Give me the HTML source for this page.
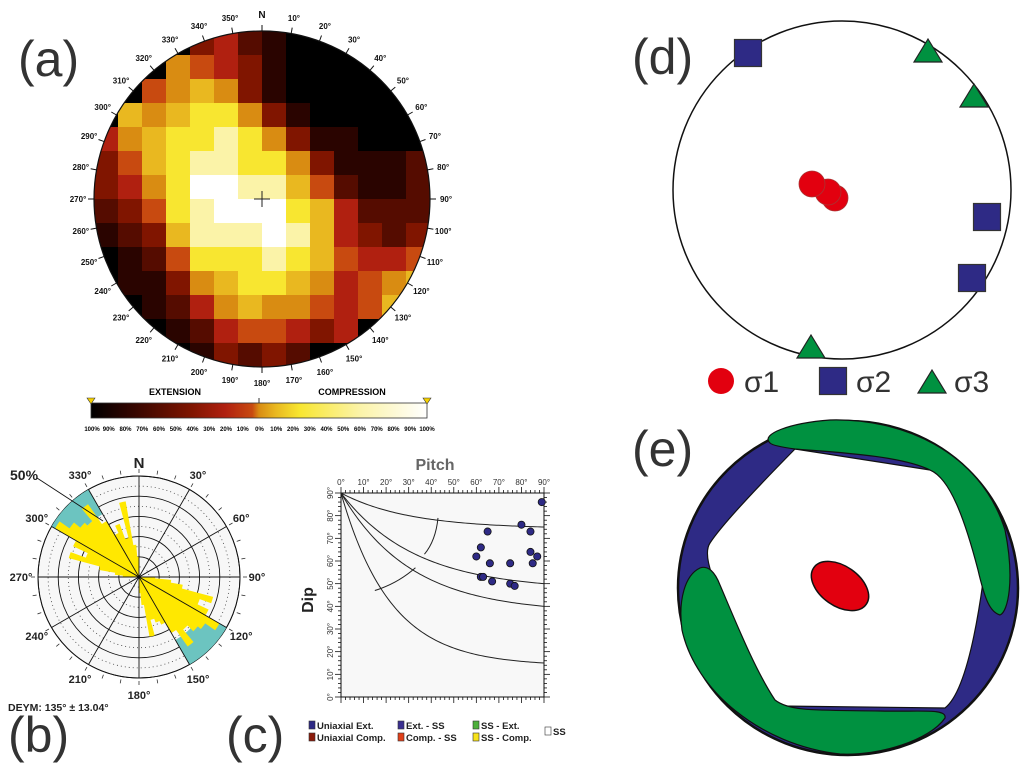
<!DOCTYPE html>
<html><head><meta charset="utf-8"><style>
html,body{margin:0;padding:0;background:#fff;}
svg{display:block;font-family:"Liberation Sans",sans-serif;}
.pl{font-size:50px;fill:#333;}
</style></head><body>
<svg id="fig" width="1029" height="779" viewBox="0 0 1029 779">
<defs>
<clipPath id="clipA"><circle cx="262" cy="199" r="168"/></clipPath>
</defs>
<text class="pl" x="18" y="76">(a)</text>
<text class="pl" x="8" y="752">(b)</text>
<text class="pl" x="226" y="752">(c)</text>
<text class="pl" x="632" y="74">(d)</text>
<text class="pl" x="632" y="466">(e)</text>
<g id="pa"></g>
<g id="pb"></g>
<g id="pc"></g>
<g id="pd"></g>
<g id="pe">
<ellipse cx="848" cy="588" rx="170" ry="167" fill="#2e2a85" stroke="#111" stroke-width="2.5"/>
<path d="M795,449 L930,470 Q958,482 983,582 Q968,690 945,708 L780,706 Q760,700 745,660 L712,575 Q704,552 710,543 Q725,520 795,449 Z" fill="#fff" stroke="#111" stroke-width="1.2"/>
<path d="M770,443 C760,434 790,423 830,420 C900,418 980,450 1005,530 C1015,580 1008,612 1000,615 C990,612 985,600 978,570 C965,520 950,478 930,470 C900,455 830,452 795,449 C780,447 772,445 770,443 Z" fill="#009140" stroke="#111" stroke-width="1.2"/>
<path d="M700,568 C685,575 678,600 682,630 C695,690 760,745 840,754 C880,756 930,740 945,718 C947,708 920,712 880,711 C820,710 790,712 775,700 C755,670 735,620 720,585 C715,572 708,565 700,568 Z" fill="#009140" stroke="#111" stroke-width="1.2"/>
<ellipse cx="840" cy="586" rx="32" ry="20" transform="rotate(35 840 586)" fill="#e2000f" stroke="#111" stroke-width="1.5"/>
</g>
</svg>
<script>
var NS="http://www.w3.org/2000/svg";
function mk(p,t,a){var e=document.createElementNS(NS,t);for(var k in a)e.setAttribute(k,a[k]);p.appendChild(e);return e;}
function tx(p,x,y,s,a){var e=mk(p,'text',a);e.setAttribute('x',x);e.setAttribute('y',y);e.textContent=s;return e;}

/* ---------- Panel (a) heatmap ---------- */
var heatRows=[
[0,0,0,0,3,4,2,1,0,0,0,0,0,0],
[0,0,0,6,5,4,3,1,0,0,0,0,0,0],
[0,0,5,6,7,6,3,1,0,0,0,0,0,0],
[0,7,6,7,8,8,6,3,1,0,0,0,0,0],
[4,6,7,8,8,9,8,6,3,1,1,0,0,0],
[3,5,7,8,9,9,8,8,6,3,1,1,1,2],
[3,4,6,8,10,10,9,9,7,5,2,1,1,2],
[2,3,5,8,9,10,10,10,8,7,4,2,2,2],
[1,2,3,7,9,9,9,10,9,7,4,3,2,3],
[0,1,2,5,8,8,8,9,8,7,5,4,4,5],
[0,1,1,3,6,7,8,8,7,6,4,5,6,7],
[0,0,1,2,4,6,7,6,6,5,4,5,7,0],
[0,0,0,1,2,4,5,5,4,3,4,0,0,0],
[0,0,0,0,1,3,2,3,2,0,0,0,0,0]];
var heatColors=["#000000","#2a0400","#550c00","#801500","#b02010","#c84a10","#d98c12","#e9b820","#f8e630","#fbf3a8","#ffffff"];
var pa=document.getElementById('pa');
var hg=mk(pa,'g',{'clip-path':'url(#clipA)'});
var cell=336/14;
for(var r=0;r<heatRows.length;r++)for(var c=0;c<heatRows[r].length;c++){
 var e=mk(hg,'rect',{x:94+c*cell,y:31+r*cell,width:cell+0.5,height:cell+0.5,fill:heatColors[heatRows[r][c]]});
 
 
}
var oc=mk(pa,'circle',{cx:262,cy:199,r:168,fill:'none',stroke:'#111','stroke-width':1.2});


mk(pa,'path',{d:'M254,199H270M262,191V207',stroke:'#222','stroke-width':1});
for(var d=0;d<360;d+=10){
 var a=(d-90)*Math.PI/180;
 mk(pa,'line',{x1:262+168*Math.cos(a),y1:199+168*Math.sin(a),x2:262+174*Math.cos(a),y2:199+174*Math.sin(a),stroke:'#111','stroke-width':1});
 var lx=262+184*Math.cos(a),ly=199+184*Math.sin(a)+3;
 var t=tx(pa,lx,ly,d==0?'N':d+'°',{'font-size':d==0?10:8,'font-weight':'bold','text-anchor':'middle',fill:'#111'});
 
 
}
var cbStops=["#000000","#2a0400","#550c00","#801500","#b02010","#c84a10","#d98c12","#e9b820","#f8e630","#fbf3a8","#ffffff"];
var grad=mk(document.querySelector('defs'),'linearGradient',{id:'cbg',x1:0,x2:1,y1:0,y2:0});
var cbPos=[0,0.1,0.2,0.3,0.4,0.48,0.5,0.55,0.62,0.8,1];
for(var i=0;i<cbStops.length;i++)mk(grad,'stop',{offset:cbPos[i],'stop-color':cbStops[i]});
var cb=mk(pa,'rect',{x:91,y:403,width:336,height:15,fill:'url(#cbg)',stroke:'#333','stroke-width':0.8});


mk(pa,'line',{x1:259,y1:398,x2:259,y2:403,stroke:'#333'});
mk(pa,'path',{d:'M87,398H95L91,404Z',fill:'#f5d000',stroke:'#333','stroke-width':0.6});
mk(pa,'path',{d:'M423,398H431L427,404Z',fill:'#f5d000',stroke:'#333','stroke-width':0.6});
tx(pa,175,395,'EXTENSION',{'font-size':9,'font-weight':'bold','text-anchor':'middle'});
tx(pa,352,395,'COMPRESSION',{'font-size':9,'font-weight':'bold','text-anchor':'middle'});
var cbLabels=["100%","90%","80%","70%","60%","50%","40%","30%","20%","10%","0%","10%","20%","30%","40%","50%","60%","70%","80%","90%","100%"];
for(var i=0;i<cbLabels.length;i++)tx(pa,92+i*16.75,431,cbLabels[i],{'font-size':6,'font-weight':'bold','text-anchor':'middle'});

/* ---------- Panel (b) rose ---------- */
var roseNW=[8,12,20,36,28,36,48,42,38,36,44,32,24,28,20,38,16,10];
var roseSE=[8,16,22,38,32,38,46,40,38,34,42,32,26,24,22,30,14,8];
var roseStartNW=270, roseStartSE=90, binW=5, roseMax=50;
var pb=document.getElementById('pb');
var bx=139,by=577,R=101;
function rp(deg,rad){var a=(deg-90)*Math.PI/180;return [bx+rad*Math.cos(a),by+rad*Math.sin(a)];}
mk(pb,'circle',{cx:bx,cy:by,r:R,fill:'#f7f7f7',stroke:'#111','stroke-width':1});
for(var k=1;k<=5;k++){
 mk(pb,'circle',{cx:bx,cy:by,r:R*k/5,fill:'none',stroke:'#111','stroke-width':0.9});
 mk(pb,'circle',{cx:bx,cy:by,r:R*(k-0.5)/5,fill:'none',stroke:'#444','stroke-width':0.8,'stroke-dasharray':'1 3'});
}
function sector(a1,a2,r0,r1){var p1=rp(a1,r1),p2=rp(a2,r1),p3=rp(a2,r0),p4=rp(a1,r0);
 return 'M'+p1+'A'+r1+','+r1+' 0 0 1 '+p2+'L'+p3+'A'+r0+','+r0+' 0 0 0 '+p4+'Z';}
[[300,330],[120,150]].forEach(function(s){var e=mk(pb,'path',{d:sector(s[0],s[1],R*0.72,R),fill:'#6cc4c0'});
 
 });
function lobe(arr,start){var d='M'+bx+','+by;
 for(var i=0;i<arr.length;i++){var rr=arr[i]/roseMax*R;var a1=start+i*binW,p1=rp(a1,rr),p2=rp(a1+binW,rr);
  d+='L'+p1[0].toFixed(2)+','+p1[1].toFixed(2)+'A'+rr.toFixed(2)+','+rr.toFixed(2)+' 0 0 1 '+p2[0].toFixed(2)+','+p2[1].toFixed(2);}
 d+='Z';
 var e=mk(pb,'path',{d:d,fill:'#ffe800'});
 
 }
lobe(roseNW,roseStartNW);lobe(roseSE,roseStartSE);
for(var d=0;d<180;d+=30){var p1=rp(d,R),p2=rp(d+180,R);mk(pb,'line',{x1:p1[0],y1:p1[1],x2:p2[0],y2:p2[1],stroke:'#111','stroke-width':0.9});}
for(var d=0;d<360;d+=10){var p1=rp(d,R+3),p2=rp(d,R+7);mk(pb,'line',{x1:p1[0],y1:p1[1],x2:p2[0],y2:p2[1],stroke:'#333','stroke-width':0.8});}
var roseLabels=["N","30°","60°","90°","120°","150°","180°","210°","240°","270°","300°","330°"];
for(var i=0;i<12;i++){var p=rp(i*30,i==0?113:118);tx(pb,p[0],p[1]+4,roseLabels[i],{'font-size':i==0?15:11,'font-weight':'bold','text-anchor':'middle',fill:'#222'});}
mk(pb,'line',{x1:37,y1:478,x2:103,y2:521,stroke:'#111','stroke-width':0.9});
tx(pb,10,480,'50%',{'font-size':14,'font-weight':'bold',fill:'#222'});
tx(pb,8,711,'DEYM: 135° ± 13.04°',{'font-size':10.5,'font-weight':'bold',fill:'#222'});

/* ---------- Panel (c) pitch/dip ---------- */
var pitchVals=[89,80,84,65,62,60,66,75,84,87,85,62,63,67,75,77];
var dipVals=[86,76,73,73,66,62,59,59,64,62,59,53,53,51,50,49];
var tickDeg=[0,10,20,30,40,50,60,70,80,90];
var curveEnds=[75,50,40,15];
var curveK=[30,33,31,22];
var pc=document.getElementById('pc');
var X0=341,X1=544,Y0=697,Y1=493;
function sx(v){return X0+(X1-X0)*v/90;}
function sy(v){return Y0+(Y1-Y0)*v/90;}
var bg=mk(pc,'rect',{x:X0,y:Y1,width:X1-X0,height:Y0-Y1,fill:'#f8f8f8',stroke:'#111','stroke-width':1});


for(var v=0;v<=90;v+=2){var L=(v%10==0)?6:3;
 mk(pc,'line',{x1:sx(v),y1:Y1,x2:sx(v),y2:Y1-L,stroke:'#111','stroke-width':0.8});
 mk(pc,'line',{x1:sx(v),y1:Y0,x2:sx(v),y2:Y0+L,stroke:'#111','stroke-width':0.8});
 mk(pc,'line',{x1:X0,y1:sy(v),x2:X0-L,y2:sy(v),stroke:'#111','stroke-width':0.8});
 mk(pc,'line',{x1:X1,y1:sy(v),x2:X1+L,y2:sy(v),stroke:'#111','stroke-width':0.8});}
for(var i=0;i<tickDeg.length;i++){
 tx(pc,sx(tickDeg[i]),Y1-8,tickDeg[i]+'°',{'font-size':8,'text-anchor':'middle',fill:'#333'});
 var t=tx(pc,0,0,tickDeg[i]+'°',{'font-size':8,'text-anchor':'middle',fill:'#333'});
 t.setAttribute('transform','translate('+(X0-8)+','+sy(tickDeg[i])+') rotate(-90)');
}
tx(pc,435,470,'Pitch',{'font-size':16,'font-weight':'bold','text-anchor':'middle',fill:'#666'});
var dl=tx(pc,0,0,'Dip',{'font-size':16,'font-weight':'bold','text-anchor':'middle',fill:'#222'});
dl.setAttribute('transform','translate(313,600) rotate(-90)');
for(var j=0;j<curveEnds.length;j++){var pts=[];var k=curveK[j],e0=Math.exp(-90/k);
 for(var p=0;p<=90;p+=1){var g=(Math.exp(-p/k)-e0)/(1-e0);pts.push(sx(p)+','+sy(curveEnds[j]+(90-curveEnds[j])*g));}
 var cl=mk(pc,'polyline',{points:pts.join(' '),fill:'none',stroke:'#222','stroke-width':1});
 
 }
mk(pc,'path',{d:'M'+sx(43)+','+sy(79)+'Q'+sx(42)+','+sy(69)+' '+sx(37)+','+sy(63),fill:'none',stroke:'#222','stroke-width':1});
mk(pc,'path',{d:'M'+sx(33)+','+sy(57)+'Q'+sx(25)+','+sy(50)+' '+sx(15)+','+sy(47),fill:'none',stroke:'#222','stroke-width':1});
for(var i=0;i<pitchVals.length;i++){
 var pt=mk(pc,'circle',{cx:sx(pitchVals[i]),cy:sy(dipVals[i]),r:3.6,fill:'#2e2a85',stroke:'#111','stroke-width':0.8});
 
 
}
var legC=[["Uniaxial Ext.","#2e2a85",313,729],["Uniaxial Comp.","#8a1a0a",313,741],["Ext. - SS","#3a2f90",402,729],["Comp. - SS","#e0401a",402,741],["SS - Ext.","#4caf3a",477,729],["SS - Comp.","#f7e21a",477,741],["SS","#ffffff",549,735]];
legC.forEach(function(l){mk(pc,'rect',{x:l[2]-4,y:l[3]-8,width:6,height:8,fill:l[1],stroke:'#333','stroke-width':0.6});
 var t=tx(pc,l[2]+4,l[3],l[0],{'font-size':9.5,'font-weight':'bold',fill:'#222'});
 
 });

/* ---------- Panel (d) ---------- */
var pd=document.getElementById('pd');
var dc=mk(pd,'circle',{cx:842,cy:190,r:169,fill:'none',stroke:'#111','stroke-width':1.5});


var s1x=[812,828,835], s1y=[184,192,198];
var s2x=[748,987,972], s2y=[53,217,278];
var s3x=[928,974,811], s3y=[52,97,348];
function sq(x,y){return mk(pd,'rect',{x:x-13.5,y:y-13.5,width:27,height:27,fill:'#2e2a85',stroke:'#333','stroke-width':1.2});}
function tri(x,y){return mk(pd,'path',{d:'M'+x+','+(y-13)+'L'+(x+14)+','+(y+10)+'L'+(x-14)+','+(y+10)+'Z',fill:'#009140',stroke:'#222','stroke-width':1.2});}
for(var i=s1x.length-1;i>=0;i--){var e=mk(pd,'circle',{cx:s1x[i],cy:s1y[i],r:13,fill:'#e2000f',stroke:'#a33','stroke-width':0.8});
 
 }
for(var i=0;i<s2x.length;i++){var e=sq(s2x[i],s2y[i]);
 
 }
for(var i=0;i<s3x.length;i++){var e=tri(s3x[i],s3y[i]);
 
 }
mk(pd,'circle',{cx:721,cy:381,r:13,fill:'#e2000f'});
tx(pd,744,392,'σ1',{'font-size':30,fill:'#333'});
sq(833,381);
tx(pd,856,392,'σ2',{'font-size':30,fill:'#333'});
tri(932,383);
tx(pd,954,392,'σ3',{'font-size':30,fill:'#333'});
</script>
</body></html>
